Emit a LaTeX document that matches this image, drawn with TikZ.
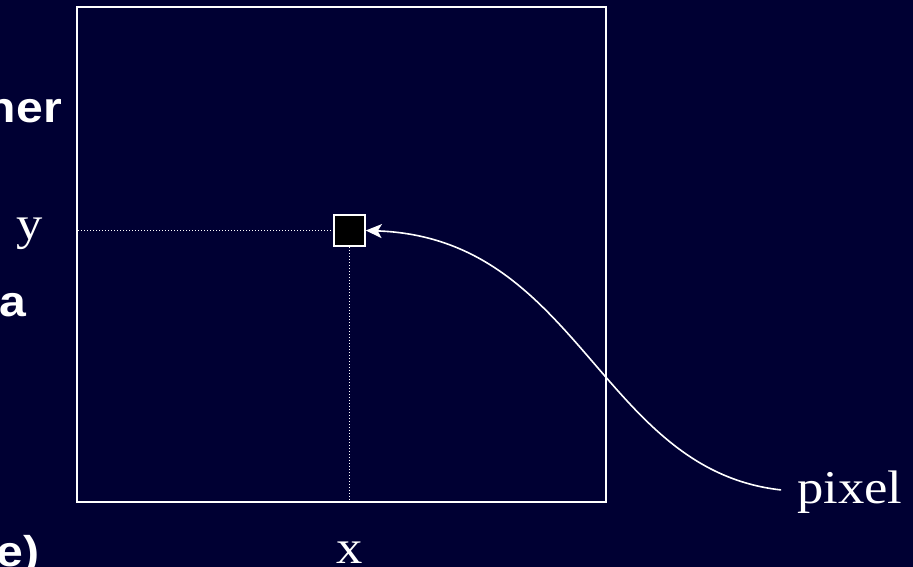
\documentclass[tikz,border=0pt]{standalone}
\usepackage{fontspec}
\setmainfont{Liberation Serif}
\setsansfont{Liberation Sans}
\usetikzlibrary{arrows.meta,calc,positioning}
\definecolor{slidebg}{RGB}{0,0,51}
\newcommand{\wide}[1]{\scalebox{1.12}[1]{#1}}

\begin{document}
\begin{tikzpicture}[x=1pt,y=-1pt,
  lbl/.style={text=white,inner sep=0,font=\fontsize{47}{50}\selectfont},
  cuttext/.style={text=white,inner sep=0,font=\sffamily\bfseries\fontsize{43}{46}\selectfont},
  guide/.style={white,line width=1pt,dash pattern=on 1pt off 2pt}]
  \useasboundingbox (0,0) rectangle (913,567);
  \fill[slidebg] (0,0) rectangle (913,567);
  \clip (0,0) rectangle (913,567);
  % text of the slide, cut off by the picture
  \node[cuttext,anchor=base east] (her) at (62,123) {\wide{her}};
  \node[cuttext,anchor=base east] (bulleta) at (26,316) {\wide{a}};
  \node[cuttext,anchor=base east] (paren) at (40,566) {\wide{e)}};
  % image and its pixel
  \node[draw=white,line width=2pt,minimum width=529pt,minimum height=495pt,inner sep=0] (frame) at (341.5,254.5) {};
  \node[draw=white,fill=black,line width=1.5pt,minimum size=31pt,inner sep=0] (px) at (349.5,230.5) {};
  \draw[guide] ($(frame.west |- px.west)+(2,0)$) -- (px.west);
  \draw[guide] (px.south) -- ($(px.south |- frame.south)+(0,-2)$);
  \node[lbl,anchor=base] (ylab) at (30,239) {\wide{y}};
  \node[lbl,anchor=base] (xlab) at (350,563) {\wide{x}};
  \node[lbl,anchor=base west] (pixlab) at (797,503) {\wide{pixel}};
  \draw[white,line width=1.6pt,-{Stealth[length=16pt,width=14pt,inset=4pt]},shorten <=16pt]
    (pixlab.west) .. controls (600,470) and (580,238) .. (px.east);
\end{tikzpicture}
\end{document}
